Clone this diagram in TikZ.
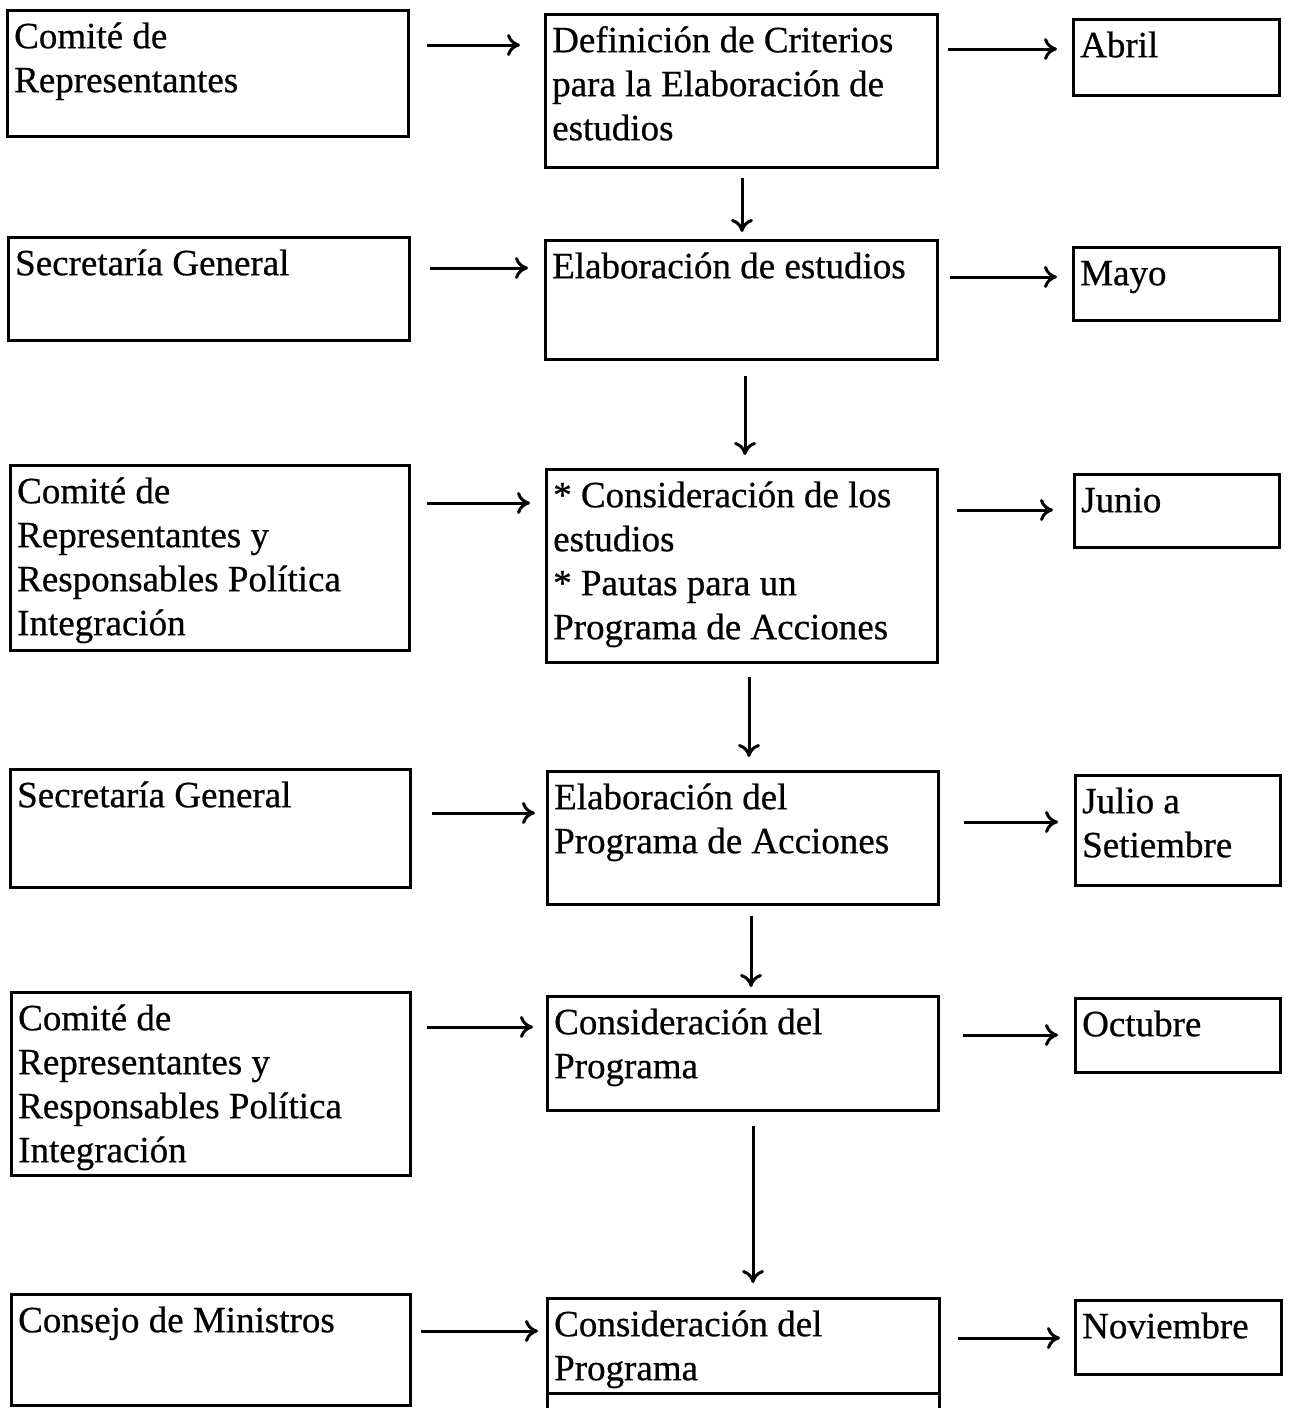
\documentclass[tikz,border=0pt]{standalone}
\usepackage{fontspec}
\setmainfont{Liberation Serif}[UprightFeatures={FakeBold=0.6}]
\usetikzlibrary{calc,arrows.meta}
\tikzset{
  box/.style={draw, line width=3pt, anchor=north west, inner sep=0pt, outer sep=0pt},
  txt/.style={anchor=north west, inner sep=0pt, align=left, font=\fontsize{37}{44}\selectfont},
  arr/.style={line width=3pt, -{Computer Modern Rightarrow[length=13pt,width=22pt]}},
  edge/.style={line width=3pt},
}
\newcommand\flowbox[6]{%
  \node[box, minimum width={#4-#2}, minimum height={#5-#3}] (#1) at (#2,#3) {};
  \node[txt] (#1t) at ($(#1.north west)+(7,0)$) {\rule{0pt}{38pt}#6};
}
\begin{document}
\begin{tikzpicture}[x=1pt,y=-1pt]
\useasboundingbox (0,0) rectangle (1292,1408);
% left column
\flowbox{L1}{7}{10}{408}{136}{Comité de\\Representantes}
\flowbox{L2}{8}{237}{409}{340}{Secretaría General}
\flowbox{L3}{10}{465}{409}{650}{Comité de\\Representantes y\\Responsables Política\\Integración}
\flowbox{L4}{10}{769}{410}{887}{Secretaría General}
\flowbox{L5}{11}{992}{410}{1175}{Comité de\\Representantes y\\Responsables Política\\Integración}
\flowbox{L6}{11}{1294}{410}{1405}{Consejo de Ministros}
% middle column
\flowbox{M1}{545}{14}{937}{167}{Definición de Criterios\\para la Elaboración de\\estudios}
\flowbox{M2}{545}{240}{937}{359}{Elaboración de estudios}
\flowbox{M3}{546}{469}{937}{662}{* Consideración de los\\estudios\\* Pautas para un\\Programa de Acciones}
\flowbox{M4}{547}{771}{938}{904}{Elaboración del\\Programa de Acciones}
\flowbox{M5}{547}{996}{938}{1110}{Consideración del\\Programa}
\flowbox{M6}{547}{1298}{939}{1393}{Consideración del\\Programa}
\draw[edge] (M6.south west) -- ++(0,40);
\draw[edge] (M6.south east) -- ++(0,40);
% right column
\flowbox{R1}{1073}{19}{1279}{95}{Abril}
\flowbox{R2}{1073}{247}{1279}{320}{Mayo}
\flowbox{R3}{1074}{474}{1279}{547}{Junio}
\flowbox{R4}{1075}{775}{1280}{885}{Julio a\\Setiembre}
\flowbox{R5}{1075}{998}{1280}{1072}{Octubre}
\flowbox{R6}{1075}{1300}{1281}{1374}{Noviembre}
% left -> middle
\draw[arr, shorten <=19pt, shorten >=25pt] (L1.east |- 0,45) -- (M1.west |- 0,45);
\draw[arr, shorten <=21pt, shorten >=17pt] (L2.east |- 0,268) -- (M2.west |- 0,268);
\draw[arr, shorten <=18pt, shorten >=16pt] (L3.east |- 0,503) -- (M3.west |- 0,503);
\draw[arr, shorten <=22pt, shorten >=12pt] (L4.east |- 0,813) -- (M4.west |- 0,813);
\draw[arr, shorten <=17pt, shorten >=14pt] (L5.east |- 0,1027) -- (M5.west |- 0,1027);
\draw[arr, shorten <=11pt, shorten >=9pt] (L6.east |- 0,1331) -- (M6.west |- 0,1331);
% middle -> right
\draw[arr, shorten <=11pt, shorten >=16pt] (M1.east |- 0,49) -- (R1.west |- 0,49);
\draw[arr, shorten <=13pt, shorten >=16pt] (M2.east |- 0,277) -- (R2.west |- 0,277);
\draw[arr, shorten <=20pt, shorten >=21pt] (M3.east |- 0,510) -- (R3.west |- 0,510);
\draw[arr, shorten <=26pt, shorten >=17pt] (M4.east |- 0,822) -- (R4.west |- 0,822);
\draw[arr, shorten <=25pt, shorten >=17pt] (M5.east |- 0,1035) -- (R5.west |- 0,1035);
\draw[arr, shorten <=19pt, shorten >=15pt] (M6.east |- 0,1338) -- (R6.west |- 0,1338);
% middle -> middle (down)
\draw[arr, shorten <=11pt, shorten >=8pt] (M1.south -| 742,0) -- (M2.north -| 742,0);
\draw[arr, shorten <=17pt, shorten >=14pt] (M2.south -| 745,0) -- (M3.north -| 745,0);
\draw[arr, shorten <=15pt, shorten >=14pt] (M3.south -| 749,0) -- (M4.north -| 749,0);
\draw[arr, shorten <=12pt, shorten >=9pt] (M4.south -| 751,0) -- (M5.north -| 751,0);
\draw[arr, shorten <=16pt, shorten >=15pt] (M5.south -| 753,0) -- (M6.north -| 753,0);
\end{tikzpicture}
\end{document}
